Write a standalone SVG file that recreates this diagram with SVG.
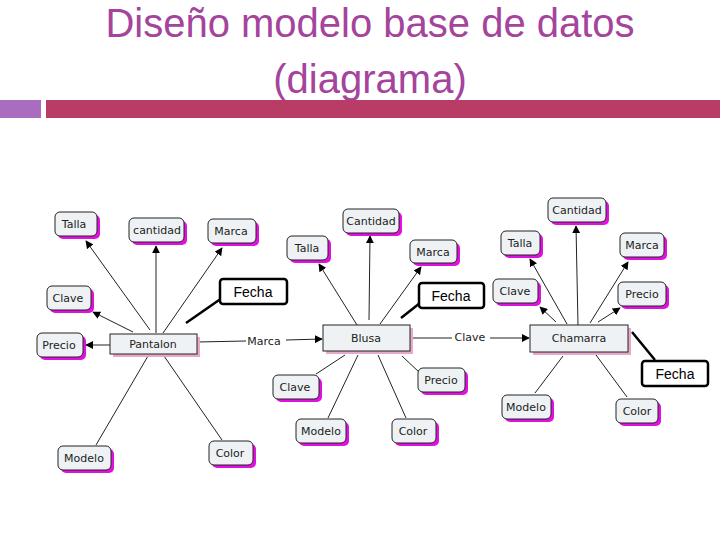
<svg xmlns="http://www.w3.org/2000/svg" width="720" height="540" viewBox="0 0 720 540">
<defs>
<marker id="ar" viewBox="0 0 10 10" refX="9" refY="5" markerWidth="8" markerHeight="8" orient="auto" markerUnits="userSpaceOnUse"><path d="M0,0L10,5L0,10z" fill="#000"/></marker>
</defs>
<style>
.t{font-family:"Liberation Sans",Arial,sans-serif;fill:#A4449C;font-size:40px;text-anchor:middle}
.n rect.s{fill:#E010E0}
.n rect.b{fill:#EEF2F4;stroke:#222;stroke-width:1}
.n text{font-family:"DejaVu Sans",sans-serif;font-size:11px;fill:#222;text-anchor:middle}
.e rect.s{fill:#E8A8C8}
.e rect.b{fill:#EEF2F4;stroke:#222;stroke-width:1}
.e text{font-family:"DejaVu Sans",sans-serif;font-size:11px;fill:#222;text-anchor:middle}
.f rect{fill:#fff;stroke:#000;stroke-width:2.5}
.f text{font-family:"Liberation Sans",Arial,sans-serif;font-size:14px;fill:#000;text-anchor:middle}
.c line{stroke:#222;stroke-width:1}
.c line.a{marker-end:url(#ar)}
.c line.k{stroke-width:2.5;stroke:#000}
.lb{font-family:"DejaVu Sans",sans-serif;font-size:11px;fill:#222;text-anchor:middle}
</style>
<rect width="720" height="540" fill="#fff"/>
<text class="t" x="370" y="37">Diseño modelo base de datos</text>
<text class="t" x="370" y="93">(diagrama)</text>
<rect x="0" y="100" width="41" height="18" fill="#A96DC0"/>
<rect x="46" y="100" width="674" height="18" fill="#B83C66"/>

<g class="c" id="connectors">
<line class="a" x1="150" y1="330" x2="86" y2="241"/>
<line class="a" x1="156" y1="333" x2="156" y2="246"/>
<line class="a" x1="163" y1="333" x2="222" y2="248"/>
<line class="a" x1="133" y1="332" x2="93" y2="312"/>
<line class="a" x1="110" y1="345" x2="86" y2="345"/>
<line class="k" x1="186" y1="323" x2="222" y2="298"/>
<line x1="148" y1="356" x2="96" y2="445"/>
<line x1="164" y1="356" x2="222" y2="440"/>
<line x1="197" y1="342" x2="246" y2="341"/>
<line class="a" x1="286" y1="340" x2="322" y2="339"/>
<line class="a" x1="369" y1="320" x2="370" y2="236"/>
<line class="a" x1="357" y1="325" x2="319" y2="264"/>
<line class="a" x1="380" y1="324" x2="421" y2="267"/>
<line class="k" x1="401" y1="318" x2="420" y2="303"/>
<line x1="345" y1="355" x2="316" y2="374"/>
<line x1="358" y1="355" x2="328" y2="418"/>
<line x1="378" y1="355" x2="406" y2="418"/>
<line x1="402" y1="356" x2="420" y2="373"/>
<line x1="410" y1="338" x2="452" y2="338"/>
<line class="a" x1="490" y1="338" x2="529" y2="338"/>
<line class="a" x1="578" y1="325" x2="576" y2="226"/>
<line class="a" x1="567" y1="324" x2="530" y2="259"/>
<line class="a" x1="590" y1="323" x2="628" y2="262"/>
<line class="a" x1="556" y1="322" x2="540" y2="307"/>
<line class="a" x1="598" y1="322" x2="620" y2="308"/>
<line class="k" x1="632" y1="332" x2="655" y2="360"/>
<line x1="563" y1="356" x2="535" y2="393"/>
<line x1="596" y1="355" x2="627" y2="397"/>
</g>
<text class="lb" x="264" y="345">Marca</text>
<text class="lb" x="470" y="341">Clave</text>

<g class="e" id="pantalon"><rect class="s" x="113" y="337" width="87" height="20"/><rect class="b" x="110" y="334" width="87" height="20"/><text x="153" y="348">Pantalon</text></g>
<g class="e" id="blusa"><rect class="s" x="326" y="328" width="87" height="26"/><rect class="b" x="323" y="325" width="87" height="26"/><text x="366" y="342">Blusa</text></g>
<g class="e" id="chamarra"><rect class="s" x="533" y="328" width="98" height="27"/><rect class="b" x="530" y="325" width="98" height="27"/><text x="579" y="342">Chamarra</text></g>

<g class="f" id="fecha1"><rect x="220" y="279" width="67" height="25" rx="3"/><text x="253" y="297">Fecha</text></g>
<g class="f" id="fecha2"><rect x="419" y="283" width="65" height="25" rx="3"/><text x="451" y="301">Fecha</text></g>
<g class="f" id="fecha3"><rect x="642" y="361" width="66" height="25" rx="3"/><text x="675" y="379">Fecha</text></g>

<g class="n" id="p-talla"><rect class="s" x="58" y="215" width="42" height="24" rx="5"/><rect class="b" x="55" y="212" width="42" height="24" rx="5"/><text x="74" y="228">Talla</text></g>
<g class="n" id="p-cantidad"><rect class="s" x="132" y="221" width="55" height="24" rx="5"/><rect class="b" x="129" y="218" width="55" height="24" rx="5"/><text x="157" y="234">cantidad</text></g>
<g class="n" id="p-marca"><rect class="s" x="211" y="222" width="48" height="24" rx="5"/><rect class="b" x="208" y="219" width="48" height="24" rx="5"/><text x="231" y="235">Marca</text></g>
<g class="n" id="p-clave"><rect class="s" x="50" y="289" width="44" height="24" rx="5"/><rect class="b" x="47" y="286" width="44" height="24" rx="5"/><text x="68" y="302">Clave</text></g>
<g class="n" id="p-precio"><rect class="s" x="40" y="336" width="46" height="24" rx="5"/><rect class="b" x="37" y="333" width="46" height="24" rx="5"/><text x="59" y="349">Precio</text></g>
<g class="n" id="p-modelo"><rect class="s" x="61" y="449" width="53" height="24" rx="5"/><rect class="b" x="58" y="446" width="53" height="24" rx="5"/><text x="84" y="462">Modelo</text></g>
<g class="n" id="p-color"><rect class="s" x="212" y="444" width="44" height="24" rx="5"/><rect class="b" x="209" y="441" width="44" height="24" rx="5"/><text x="230" y="457">Color</text></g>

<g class="n" id="b-cantidad"><rect class="s" x="346" y="212" width="56" height="24" rx="5"/><rect class="b" x="343" y="209" width="56" height="24" rx="5"/><text x="371" y="225">Cantidad</text></g>
<g class="n" id="b-talla"><rect class="s" x="290" y="239" width="41" height="24" rx="5"/><rect class="b" x="287" y="236" width="41" height="24" rx="5"/><text x="307" y="252">Talla</text></g>
<g class="n" id="b-marca"><rect class="s" x="413" y="243" width="47" height="23" rx="5"/><rect class="b" x="410" y="240" width="47" height="23" rx="5"/><text x="433" y="256">Marca</text></g>
<g class="n" id="b-clave"><rect class="s" x="276" y="378" width="46" height="24" rx="5"/><rect class="b" x="273" y="375" width="46" height="24" rx="5"/><text x="295" y="391">Clave</text></g>
<g class="n" id="b-precio"><rect class="s" x="421" y="371" width="47" height="24" rx="5"/><rect class="b" x="418" y="368" width="47" height="24" rx="5"/><text x="441" y="384">Precio</text></g>
<g class="n" id="b-modelo"><rect class="s" x="299" y="422" width="50" height="24" rx="5"/><rect class="b" x="296" y="419" width="50" height="24" rx="5"/><text x="321" y="435">Modelo</text></g>
<g class="n" id="b-color"><rect class="s" x="395" y="422" width="44" height="24" rx="5"/><rect class="b" x="392" y="419" width="44" height="24" rx="5"/><text x="413" y="435">Color</text></g>

<g class="n" id="c-cantidad"><rect class="s" x="551" y="201" width="58" height="24" rx="5"/><rect class="b" x="548" y="198" width="58" height="24" rx="5"/><text x="577" y="214">Cantidad</text></g>
<g class="n" id="c-talla"><rect class="s" x="504" y="234" width="39" height="24" rx="5"/><rect class="b" x="501" y="231" width="39" height="24" rx="5"/><text x="520" y="247">Talla</text></g>
<g class="n" id="c-marca"><rect class="s" x="623" y="236" width="44" height="24" rx="5"/><rect class="b" x="620" y="233" width="44" height="24" rx="5"/><text x="642" y="249">Marca</text></g>
<g class="n" id="c-clave"><rect class="s" x="496" y="282" width="45" height="24" rx="5"/><rect class="b" x="493" y="279" width="45" height="24" rx="5"/><text x="515" y="295">Clave</text></g>
<g class="n" id="c-precio"><rect class="s" x="621" y="285" width="48" height="24" rx="5"/><rect class="b" x="618" y="282" width="48" height="24" rx="5"/><text x="642" y="298">Precio</text></g>
<g class="n" id="c-modelo"><rect class="s" x="505" y="398" width="49" height="24" rx="5"/><rect class="b" x="502" y="395" width="49" height="24" rx="5"/><text x="526" y="411">Modelo</text></g>
<g class="n" id="c-color"><rect class="s" x="619" y="402" width="42" height="24" rx="5"/><rect class="b" x="616" y="399" width="42" height="24" rx="5"/><text x="637" y="415">Color</text></g>
</svg>
